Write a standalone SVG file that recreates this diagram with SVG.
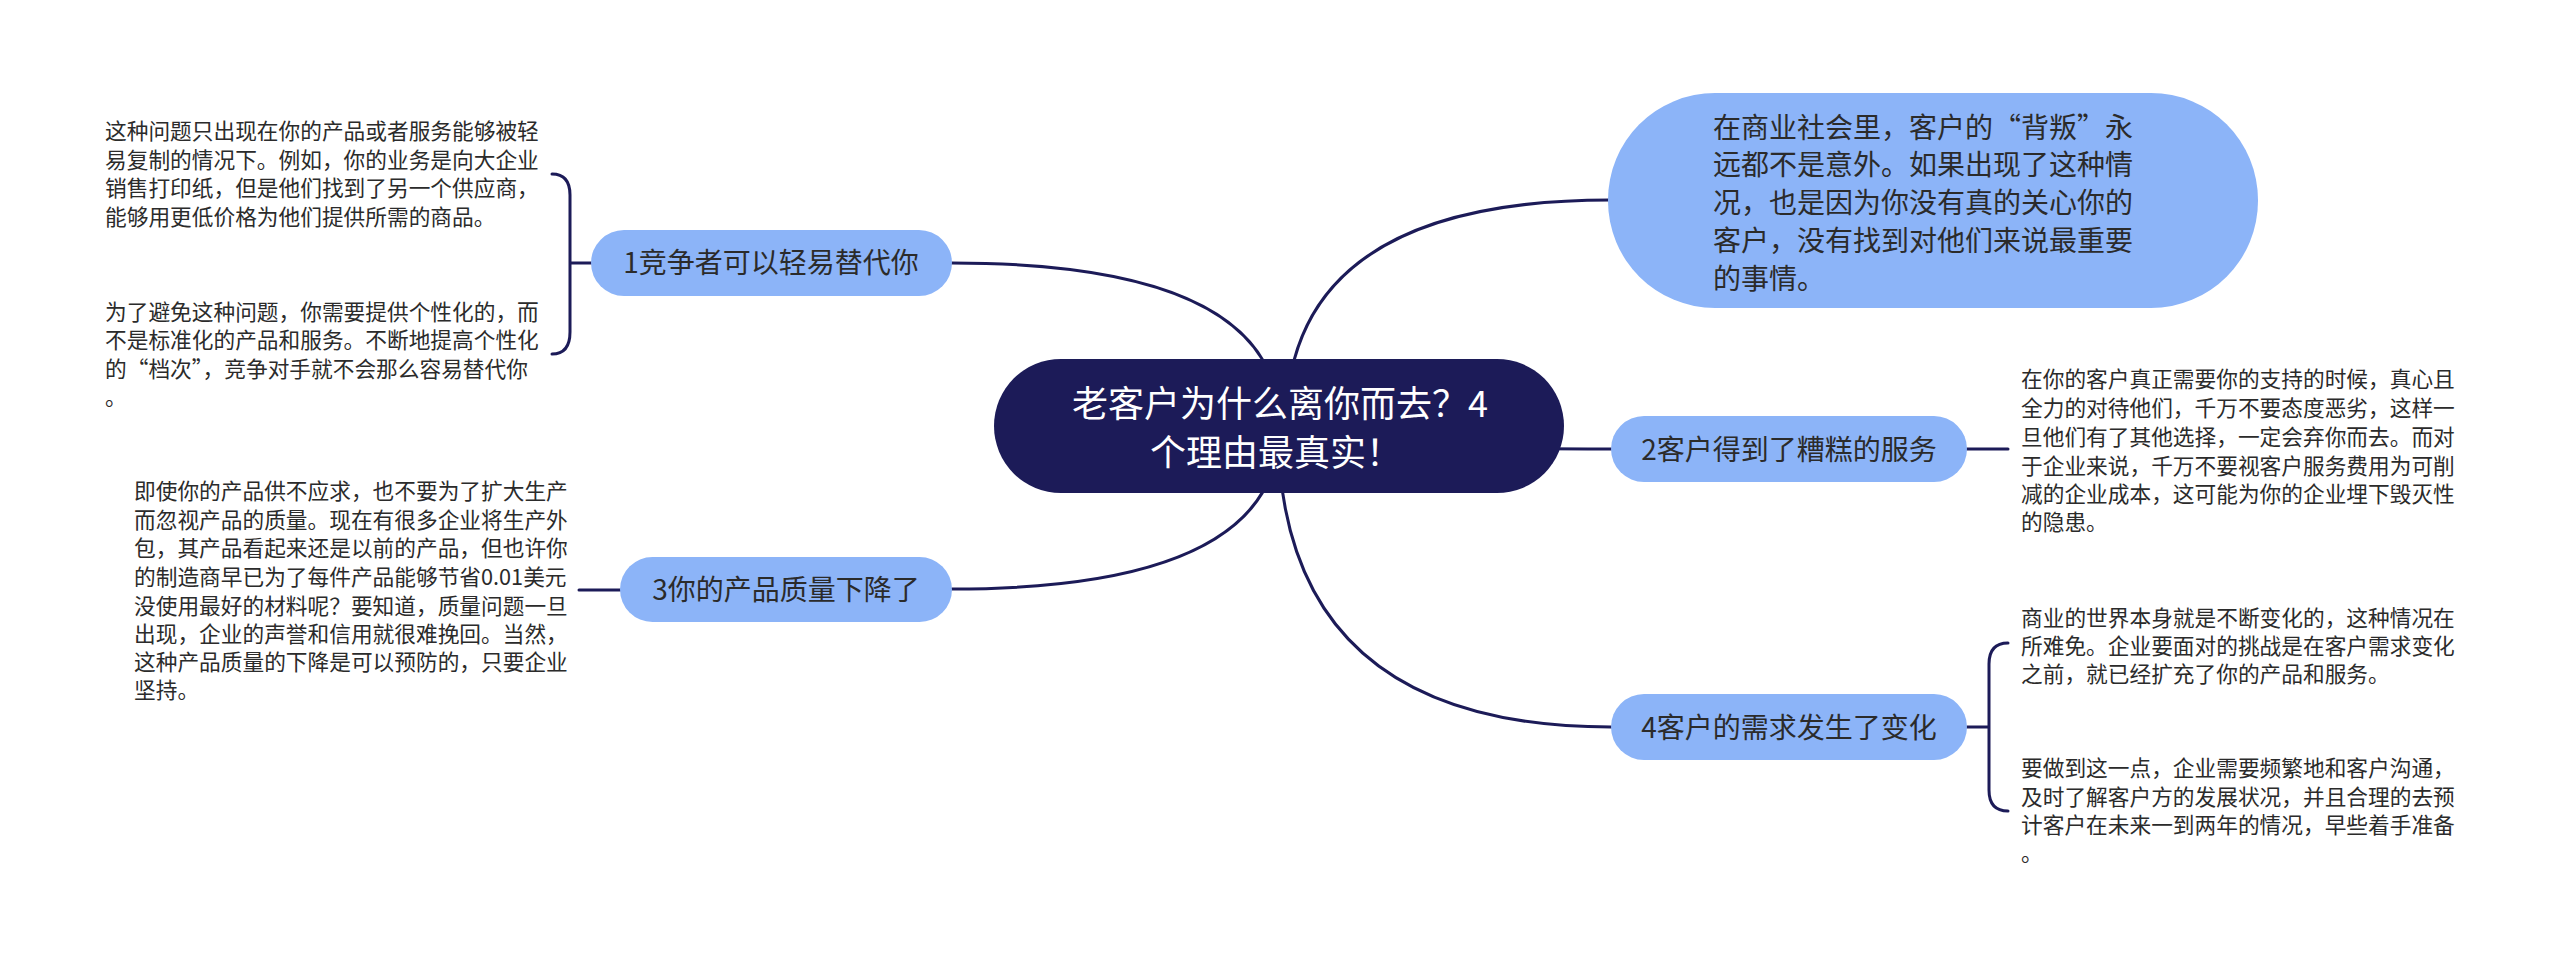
<svg xmlns="http://www.w3.org/2000/svg" width="2560" height="971" viewBox="0 0 2560 971">
<defs>
<style>
.bg{fill:#ffffff}
.root{fill:#1c1b58}
.sub{fill:#8cb4f8}
.ln{fill:none;stroke:#1c1b58;stroke-width:3;stroke-linecap:round}
text{font-family:"Noto Sans CJK SC","Noto Sans",sans-serif}
.rt{font-size:36px;fill:#ffffff;text-anchor:middle}
.st{font-size:28px;fill:#2b2b2b;text-anchor:middle}
.bt{font-size:28px;fill:#2b2b2b}
.lt{font-size:21.7px;fill:#2b2b2b}
</style>
</defs>
<rect class="bg" x="0" y="0" width="2560" height="971"/>
<g id="connectors">
<path class="ln" d="M1280 426 Q1280 263 952 263"/>
<path class="ln" d="M1280 426 Q1280 589 952 589"/>
<path class="ln" d="M1286 426 Q1286 200 1610 200"/>
<path class="ln" d="M1280 426 Q1280 449 1611 449"/>
<path class="ln" d="M1278 426 Q1278 727 1611 727"/>
<path class="ln" d="M591 263 L570 263 M552 174 Q570 174 570 195 L570 332 Q570 354 552 354"/>
<path class="ln" d="M620 590 L579 590"/>
<path class="ln" d="M1967 449 L2008 449"/>
<path class="ln" d="M1967 727 L1989 727 M2008 643 Q1989 643 1989 664 L1989 790 Q1989 811 2008 811"/>
</g>
<g id="root">
<rect class="root" x="994" y="359" width="570" height="134" rx="67"/>
<text class="rt" x="1280" y="417">老客户为什么离你而去？4</text>
<text class="rt" x="1276" y="466">个理由最真实！</text>
</g>
<g id="n0">
<rect class="sub" x="1608" y="93" width="650" height="215" rx="107"/>
<text class="bt" x="1713" y="138">在商业社会里，客户的“背叛”永</text>
<text class="bt" x="1713" y="175">远都不是意外。如果出现了这种情</text>
<text class="bt" x="1713" y="213">况，也是因为你没有真的关心你的</text>
<text class="bt" x="1713" y="251">客户，没有找到对他们来说最重要</text>
<text class="bt" x="1713" y="289">的事情。</text>
</g>
<g id="n1">
<rect class="sub" x="591" y="230" width="361" height="66" rx="33"/>
<text class="st" x="771" y="273">1竞争者可以轻易替代你</text>
</g>
<g id="n1a">
<text class="lt" x="105" y="139">这种问题只出现在你的产品或者服务能够被轻</text>
<text class="lt" x="105" y="168">易复制的情况下。例如，你的业务是向大企业</text>
<text class="lt" x="105" y="196">销售打印纸，但是他们找到了另一个供应商，</text>
<text class="lt" x="105" y="225">能够用更低价格为他们提供所需的商品。</text>
</g>
<g id="n1b">
<text class="lt" x="105" y="320">为了避免这种问题，你需要提供个性化的，而</text>
<text class="lt" x="105" y="348">不是标准化的产品和服务。不断地提高个性化</text>
<text class="lt" x="105" y="377">的“档次”，竞争对手就不会那么容易替代你</text>
<text class="lt" x="105" y="405">。</text>
</g>
<g id="n2">
<rect class="sub" x="1611" y="416" width="356" height="66" rx="33"/>
<text class="st" x="1789" y="460">2客户得到了糟糕的服务</text>
</g>
<g id="n2a">
<text class="lt" x="2021" y="387">在你的客户真正需要你的支持的时候，真心且</text>
<text class="lt" x="2021" y="416">全力的对待他们，千万不要态度恶劣，这样一</text>
<text class="lt" x="2021" y="445">旦他们有了其他选择，一定会弃你而去。而对</text>
<text class="lt" x="2021" y="474">于企业来说，千万不要视客户服务费用为可削</text>
<text class="lt" x="2021" y="502">减的企业成本，这可能为你的企业埋下毁灭性</text>
<text class="lt" x="2021" y="530">的隐患。</text>
</g>
<g id="n3">
<rect class="sub" x="620" y="557" width="332" height="65" rx="32.5"/>
<text class="st" x="786" y="600">3你的产品质量下降了</text>
</g>
<g id="n3a">
<text class="lt" x="134" y="499">即使你的产品供不应求，也不要为了扩大生产</text>
<text class="lt" x="134" y="528">而忽视产品的质量。现在有很多企业将生产外</text>
<text class="lt" x="134" y="556">包，其产品看起来还是以前的产品，但也许你</text>
<text class="lt" x="134" y="585">的制造商早已为了每件产品能够节省0.01美元</text>
<text class="lt" x="134" y="614">没使用最好的材料呢？要知道，质量问题一旦</text>
<text class="lt" x="134" y="642">出现，企业的声誉和信用就很难挽回。当然，</text>
<text class="lt" x="134" y="670">这种产品质量的下降是可以预防的，只要企业</text>
<text class="lt" x="134" y="698">坚持。</text>
</g>
<g id="n4">
<rect class="sub" x="1611" y="694" width="356" height="66" rx="33"/>
<text class="st" x="1789" y="738">4客户的需求发生了变化</text>
</g>
<g id="n4a">
<text class="lt" x="2021" y="626">商业的世界本身就是不断变化的，这种情况在</text>
<text class="lt" x="2021" y="654">所难免。企业要面对的挑战是在客户需求变化</text>
<text class="lt" x="2021" y="682">之前，就已经扩充了你的产品和服务。</text>
</g>
<g id="n4b">
<text class="lt" x="2021" y="776">要做到这一点，企业需要频繁地和客户沟通，</text>
<text class="lt" x="2021" y="805">及时了解客户方的发展状况，并且合理的去预</text>
<text class="lt" x="2021" y="833">计客户在未来一到两年的情况，早些着手准备</text>
<text class="lt" x="2021" y="861">。</text>
</g>
</svg>
